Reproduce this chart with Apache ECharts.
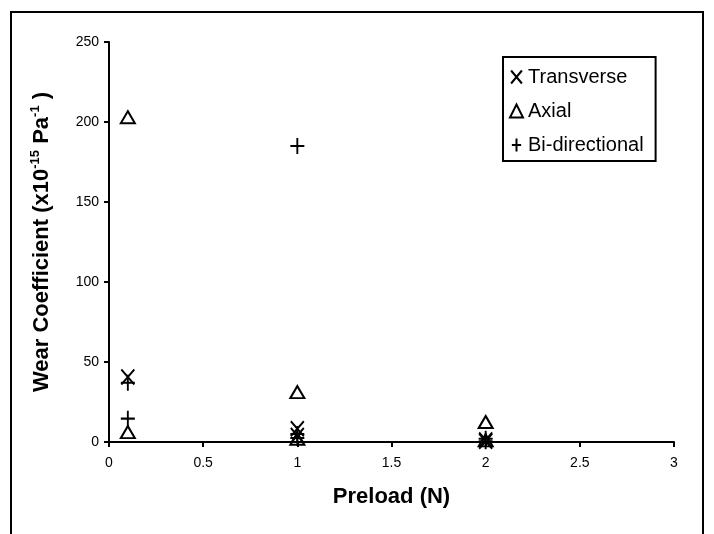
<!DOCTYPE html>
<html>
<head>
<meta charset="utf-8">
<script src="https://cdn.jsdelivr.net/npm/echarts@6/dist/echarts.min.js"></script>
<style>
  html, body { margin: 0; padding: 0; background: #fff; }
  #chart { width: 714px; height: 534px; }
</style>
</head>
<body>
<div id="chart"></div>
<script>
// values
var xTicks = [0, 0.5, 1, 1.5, 2, 2.5, 3];
var yTicks = [0, 50, 100, 150, 200, 250];

var transverseX = [0.1, 1, 1, 2, 2];
var transverseY = [40.6, 8.3, 4, 1.2, 0.5];

var axialX = [0.1, 0.1, 1, 1, 2, 2];
var axialY = [203, 6.2, 31.2, 2, 12.5, 1];

var bidirX = [0.1, 0.1, 1, 1, 1, 2, 2];
var bidirY = [37, 14.6, 185, 5, 2.5, 2, 0.5];

function pairs(xs, ys) {
  return xs.map(function (x, i) { return [x, ys[i]]; });
}

var crossPath = 'path://M0,0L10,12M10,0L0,12';
var plusPath = 'path://M5,0L5,14M0,7L10,7';
var font = 'Liberation Sans, Arial, sans-serif';

var markStyle = { color: 'transparent', borderColor: '#000', borderWidth: 2, opacity: 1 };

var chart = echarts.init(document.getElementById('chart'));
chart.setOption({
  animation: false,
  backgroundColor: '#fff',
  textStyle: { fontFamily: font, color: '#000' },
  graphic: [{
    type: 'rect',
    shape: { x: 11, y: 12, width: 692, height: 560 },
    style: { fill: 'none', stroke: '#000', lineWidth: 2 },
    silent: true
  }],
  grid: { left: 109, right: 40, top: 42, bottom: 92 },
  legend: {
    orient: 'vertical',
    left: 503,
    top: 57,
    padding: [10, 12, 6, 6],
    itemGap: 14,
    itemWidth: 13,
    itemHeight: 13,
    borderColor: '#000',
    borderWidth: 2,
    backgroundColor: '#fff',
    textStyle: { fontSize: 20, fontFamily: font, color: '#000' },
    data: ['Transverse', 'Axial', 'Bi-directional']
  },
  xAxis: {
    type: 'value',
    min: xTicks[0],
    max: xTicks[xTicks.length - 1],
    interval: 0.5,
    name: 'Preload (N)',
    nameLocation: 'middle',
    nameGap: 44,
    nameTextStyle: { fontSize: 22, fontWeight: 'bold', fontFamily: font, color: '#000' },
    axisLine: { onZero: false, lineStyle: { color: '#000', width: 2 } },
    axisTick: { show: true, length: 5, lineStyle: { color: '#000', width: 2 } },
    axisLabel: { fontSize: 14, color: '#000', margin: 14, fontFamily: font },
    splitLine: { show: false }
  },
  yAxis: {
    type: 'value',
    min: yTicks[0],
    max: yTicks[yTicks.length - 1],
    interval: 50,
    name: '{b|Wear Coefficient (x10}{s|-15}{b| Pa}{s|-1}{b| )}',
    nameLocation: 'middle',
    nameGap: 56,
    nameTextStyle: {
      rich: {
        b: { fontSize: 22, fontWeight: 'bold', fontFamily: font, color: '#000', verticalAlign: 'bottom', lineHeight: 24 },
        s: { fontSize: 13, fontWeight: 'bold', fontFamily: font, color: '#000', verticalAlign: 'top', lineHeight: 24 }
      }
    },
    axisLine: { show: true, lineStyle: { color: '#000', width: 2 } },
    axisTick: { show: true, length: 5, lineStyle: { color: '#000', width: 2 } },
    axisLabel: { fontSize: 14, color: '#000', margin: 10, fontFamily: font },
    splitLine: { show: false }
  },
  series: [
    {
      name: 'Transverse', type: 'scatter', symbol: crossPath, symbolSize: [13, 15],
      itemStyle: markStyle, data: pairs(transverseX, transverseY)
    },
    {
      name: 'Axial', type: 'scatter', symbol: 'triangle', symbolSize: [14, 12],
      itemStyle: markStyle, data: pairs(axialX, axialY)
    },
    {
      name: 'Bi-directional', type: 'scatter', symbol: plusPath, symbolSize: [14, 16],
      itemStyle: markStyle, data: pairs(bidirX, bidirY)
    }
  ]
});
</script>
</body>
</html>
